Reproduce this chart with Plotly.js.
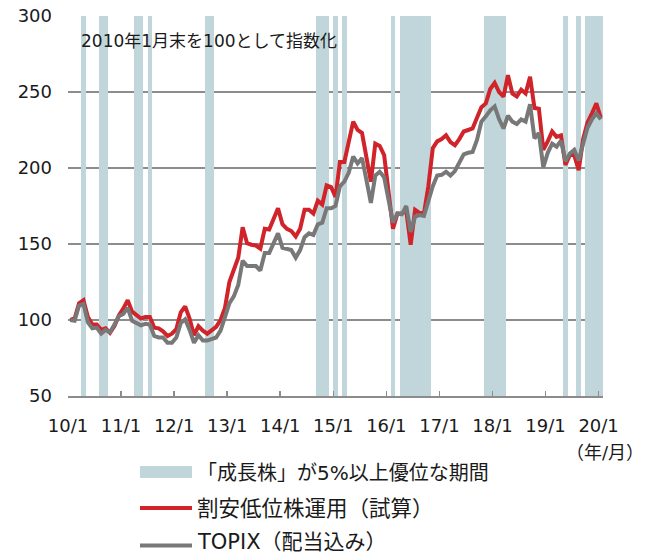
<!DOCTYPE html>
<html>
<head>
<meta charset="utf-8">
<script src="https://cdn.plot.ly/plotly-3.0.1.min.js"></script>
<style>
  html, body { margin: 0; padding: 0; background: #ffffff; }
  #chart { width: 649px; height: 555px; }
</style>
</head>
<body>
<div id="chart"></div>
<script>
// Month-end index values, Jan 2010 = 100 (index 0) through Jan 2020 (index 120)
const tickLabels = ["10/1","11/1","12/1","13/1","14/1","15/1","16/1","17/1","18/1","19/1","20/1"];

// 割安低位株運用（試算）
const valueStrategy = [
  100, 101, 111, 113, 102, 97, 97, 93.5, 94.5, 91.5, 96, 103,
  107.5, 113, 105.5, 103, 101, 102, 102, 95, 94.5, 92.5, 89.5, 91,
  94, 105, 109, 101, 90, 96, 93, 91, 93.5, 95.5, 100, 108,
  125, 132.5, 141, 161, 150.5, 149.5, 149, 147, 160, 159.5, 167, 173.5,
  163, 160, 158.5, 155, 160, 172.5, 172.5, 170, 178.5, 176, 188.5, 187.5,
  181, 204, 204, 217, 230.5, 225, 223, 207, 191, 216, 214.5, 208.5,
  185, 160, 170, 170, 172, 149.5, 172.5, 170.5, 170, 188, 213, 217.5,
  219, 221.5, 217, 215, 219, 224, 225, 226, 233, 240, 242.5, 252,
  256, 250, 247, 261, 249, 247, 251.5, 249, 260, 239.5, 239, 212,
  217.5, 224, 220.5, 221.5, 202, 208.5, 208.5, 198.5, 219, 230, 236, 242.5,
  233
];

// TOPIX（配当込み）
const topix = [
  100, 99.5, 109.5, 110.5, 98.5, 94.5, 95, 91, 93.5, 92, 97, 102.5,
  104, 108, 99.5, 98, 96.5, 97.5, 97, 89.5, 88.5, 88.5, 85, 85,
  88.5, 98, 100.5, 93.5, 85, 90, 86.5, 86.5, 87.5, 88.5, 93, 102,
  111, 115.5, 123, 139, 135.5, 135.5, 135.5, 132.5, 144, 144, 151, 157,
  147.5, 146.5, 146, 141, 146, 154.5, 157, 156, 163, 164, 173.5, 173.5,
  175, 188, 191, 197, 207.5, 203, 206.5, 192, 177, 195, 197.5, 194,
  180, 164, 170, 169.5, 175, 158, 168, 169, 168.5, 178, 188, 195,
  195.5, 197.5, 195, 198, 203, 209, 210, 210.5, 218.5, 230.5, 234, 238,
  240.5, 232, 226, 234.5, 230.5, 229, 232, 230.5, 242, 219.5, 223, 200.5,
  210, 216, 214, 218, 204.5, 209.5, 212, 205, 216, 226.5, 232, 236,
  232
];

// Months (index from Jan 2010) in which growth stocks outperformed by 5% or more
const growthMonths = [3, 7, 8, 15, 16, 18, 31, 32, 56, 57, 58, 60, 62, 73,
  75, 76, 77, 78, 79, 80, 81, 94, 95, 96, 97, 98, 112, 115, 117, 118, 119, 120];

const yMin = 50, yMax = 300;

const monthX = valueStrategy.map((_, i) => i + 0.5);
const bandColor = '#c1d6da';
const redColor = '#d0232a';
const grayColor = '#787878';
const font = 'DejaVu Sans, Noto Sans CJK JP, sans-serif';

const traces = [
  {
    type: 'bar',
    x: growthMonths.map(m => m + 0.5),
    y: growthMonths.map(() => yMax - yMin),
    base: growthMonths.map(() => yMin),
    width: 1.03,
    marker: { color: bandColor, line: { width: 0 } },
    hoverinfo: 'skip',
    showlegend: false
  },
  {
    type: 'scatter', mode: 'lines',
    x: monthX, y: valueStrategy,
    line: { color: redColor, width: 4 },
    hoverinfo: 'skip', showlegend: false
  },
  {
    type: 'scatter', mode: 'lines',
    x: monthX, y: topix,
    line: { color: grayColor, width: 4 },
    hoverinfo: 'skip', showlegend: false
  }
];

const L = 68, R = 603, T = 16, B = 396;
const W = 649, H = 555;
const px = x => (x - L) / (R - L);
const py = y => (B - y) / (B - T);

const layout = {
  width: W, height: H,
  margin: { l: L, r: W - R, t: T, b: H - B, pad: 0 },
  paper_bgcolor: '#ffffff',
  plot_bgcolor: '#ffffff',
  showlegend: false,
  bargap: 0,
  xaxis: {
    range: [0, 121],
    tickmode: 'array',
    tickvals: tickLabels.map((_, i) => i * 12),
    ticktext: tickLabels,
    ticks: 'inside', ticklen: 5, tickwidth: 1.5, tickcolor: '#8c8c8c',
    showline: true, linecolor: '#8c8c8c', linewidth: 2,
    showgrid: false, zeroline: false,
    ticklabelstandoff: 12,
    tickfont: { family: font, size: 18, color: '#1a1a1a' },
    fixedrange: true
  },
  yaxis: {
    range: [yMin, yMax],
    tickmode: 'linear', tick0: 50, dtick: 50,
    ticks: '', showline: false, zeroline: false,
    showgrid: true, gridcolor: '#8c8c8c', gridwidth: 2,
    ticklabelstandoff: 15,
    tickfont: { family: font, size: 18, color: '#1a1a1a' },
    fixedrange: true
  },
  shapes: [
    { type: 'rect', xref: 'paper', yref: 'paper',
      x0: px(140), x1: px(192), y0: py(478), y1: py(466),
      fillcolor: bandColor, line: { width: 0 } },
    { type: 'line', xref: 'paper', yref: 'paper',
      x0: px(140), x1: px(192), y0: py(508), y1: py(508),
      line: { color: redColor, width: 4 } },
    { type: 'line', xref: 'paper', yref: 'paper',
      x0: px(140), x1: px(192), y0: py(545.5), y1: py(545.5),
      line: { color: grayColor, width: 4 } }
  ],
  annotations: [
    { text: '2010年1月末を100として指数化', xref: 'paper', yref: 'paper',
      x: px(79), y: py(41), xanchor: 'left', yanchor: 'middle', showarrow: false,
      font: { family: font, size: 17, color: '#1a1a1a' } },
    { text: '（年/月）', xref: 'paper', yref: 'paper',
      x: px(646), y: py(452), xanchor: 'right', yanchor: 'middle', showarrow: false,
      font: { family: font, size: 18, color: '#1a1a1a' } },
    { text: '「成長株」が5%以上優位な期間', xref: 'paper', yref: 'paper',
      x: px(195), y: py(473), xanchor: 'left', yanchor: 'middle', showarrow: false,
      font: { family: font, size: 20, color: '#1a1a1a' } },
    { text: '割安低位株運用（試算）', xref: 'paper', yref: 'paper',
      x: px(195), y: py(508), xanchor: 'left', yanchor: 'middle', showarrow: false,
      font: { family: font, size: 21.5, color: '#1a1a1a' } },
    { text: 'TOPIX（配当込み）', xref: 'paper', yref: 'paper',
      x: px(195), y: py(542), xanchor: 'left', yanchor: 'middle', showarrow: false,
      font: { family: font, size: 21, color: '#1a1a1a' } }
  ]
};

Plotly.newPlot('chart', traces, layout, { staticPlot: true, displayModeBar: false });
</script>
</body>
</html>
